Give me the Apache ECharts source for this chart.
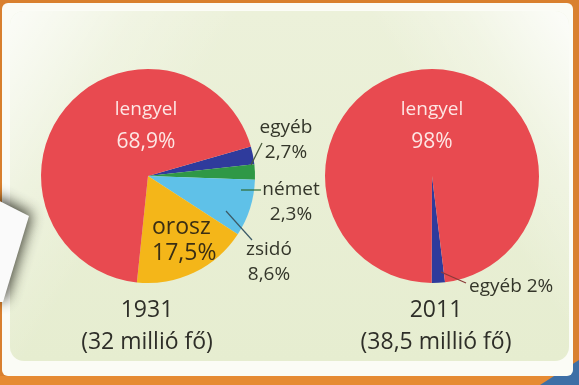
<!DOCTYPE html>
<html>
<head>
<meta charset="utf-8">
<script src="https://cdn.jsdelivr.net/npm/echarts@6/dist/echarts.min.js"></script>
<style>
  html, body { margin: 0; padding: 0; background: #ffffff; }
  #chart { width: 579px; height: 385px; }
</style>
</head>
<body>
<div id="chart"></div>
<script>
// Nemzetiségi megoszlás, Lengyelország
const names1931 = ['egyéb', 'német', 'zsidó', 'orosz', 'lengyel'];
const values1931 = [2.7, 2.3, 8.6, 17.5, 68.9];
const names2011 = ['egyéb', 'lengyel'];
const values2011 = [2, 98];
const years = ['1931', '2011'];
const populations = ['(32 millió fő)', '(38,5 millió fő)'];

const colorMap = {
  'lengyel': '#e84a50',
  'orosz': '#f4b619',
  'zsidó': '#5fc1e8',
  'német': '#2f9846',
  'egyéb': '#2f3b9c'
};

const FONT = '"Open Sans", "Noto Sans", sans-serif';
const DARK = '#34362a';

function pct(v) { return String(v).replace('.', ',') + '%'; }

// label placement for each slice (pixel anchor + alignment)
const place1931 = {
  'lengyel': { x: 146, y: 126, align: 'center' },
  'orosz':   { x: 152, y: 240, align: 'left' },
  'zsidó':   { x: 269, y: 262, align: 'center' },
  'német':   { x: 291, y: 202, align: 'center' },
  'egyéb':   { x: 286, y: 140, align: 'center' }
};
const place2011 = {
  'lengyel': { x: 432, y: 126, align: 'center' },
  'egyéb':   { x: 469, y: 287, align: 'left' }
};

function labelFor(name, isSecond) {
  if (name === 'lengyel') {
    return {
      color: '#fde6e4', fontFamily: FONT, overflow: 'none',
      formatter: p => '{n|' + p.name + '}\n{v|' + pct(p.value) + '}',
      rich: {
        n: { fontSize: 19, lineHeight: 32, color: '#fde6e4', fontFamily: FONT },
        v: { fontSize: 21, lineHeight: 32, color: '#fde6e4', fontFamily: FONT }
      }
    };
  }
  if (name === 'orosz') {
    return {
      color: '#3a2e14', fontFamily: FONT, fontSize: 23, lineHeight: 26, overflow: 'none',
      formatter: p => p.name + '\n' + pct(p.value)
    };
  }
  if (isSecond) {
    return {
      color: DARK, fontFamily: FONT, fontSize: 19, overflow: 'none',
      formatter: p => p.name + ' ' + pct(p.value)
    };
  }
  return {
    color: DARK, fontFamily: FONT, fontSize: 19, lineHeight: 25, overflow: 'none',
    formatter: p => p.name + '\n' + pct(p.value)
  };
}

function buildData(names, values, isSecond) {
  return names.map((n, i) => ({
    name: n,
    value: values[i],
    itemStyle: { color: colorMap[n] },
    label: labelFor(n, isSecond)
  }));
}

function layoutFrom(places, names) {
  return function (params) {
    const p = places[names[params.dataIndex]];
    return { x: p.x, y: p.y, align: p.align, verticalAlign: 'middle' };
  };
}

const chart = echarts.init(document.getElementById('chart'), null, { renderer: 'canvas' });

const panel = { x: 10, y: 11, width: 559, height: 350, r: 14 };

const background = [
  // orange frame behind the card
  { type: 'rect', z: -20, shape: { x: 0, y: 0, width: 579, height: 385 }, style: { fill: '#d9802f' } },
  { type: 'rect', z: -19, shape: { x: 0, y: 376, width: 579, height: 9 }, style: { fill: '#e68b33' } },
  { type: 'polygon', z: -19, shape: { points: [[540, 385], [579, 360], [579, 385]] }, style: { fill: '#3d6fa6' } },
  // white card
  { type: 'rect', z: -18, shape: { x: 2, y: 3, width: 571, height: 373, r: 6 }, style: { fill: '#fbfcf6' } },
  // pale green panel
  {
    type: 'rect', z: -17, shape: panel,
    style: {
      fill: new echarts.graphic.LinearGradient(0, 0, 0, 1, [
        { offset: 0, color: '#ecf1da' },
        { offset: 1, color: '#e6edd0' }
      ])
    }
  },
  // soft sheen fading in from the top corners
  {
    type: 'rect', z: -16, shape: panel,
    style: {
      fill: new echarts.graphic.LinearGradient(0, 0, 1, 1, [
        { offset: 0, color: 'rgba(255,255,255,0.8)' },
        { offset: 0.16, color: 'rgba(255,255,255,0.25)' },
        { offset: 0.3, color: 'rgba(255,255,255,0)' }
      ])
    }
  },
  {
    type: 'rect', z: -16, shape: panel,
    style: {
      fill: new echarts.graphic.LinearGradient(1, 0, 0, 1, [
        { offset: 0, color: 'rgba(255,255,255,0.85)' },
        { offset: 0.14, color: 'rgba(255,255,255,0.3)' },
        { offset: 0.26, color: 'rgba(255,255,255,0)' }
      ])
    }
  },
  // tilted sheet on the left with its shadow
  {
    type: 'polygon', z: -15,
    shape: { points: [[-10, 196], [29, 216], [3, 302], [-10, 302]] },
    style: {
      fill: '#fafafa',
      shadowBlur: 14, shadowColor: 'rgba(30,30,20,0.85)', shadowOffsetX: 3, shadowOffsetY: -2
    }
  }
];

// leader lines from the small slices to their captions
const leaders = [
  [[251, 165], [262, 143], '#4b5a3c'],
  [[241, 190], [261, 190], '#2e6b35'],
  [[226, 211], [252, 240], '#3c5a66'],
  [[441, 272], [466, 283], '#8a3a3a']
].map(l => ({
  type: 'line', z: 10,
  shape: { x1: l[0][0], y1: l[0][1], x2: l[1][0], y2: l[1][1] },
  style: { stroke: l[2], lineWidth: 1.2 }
}));

// year + population captions under each pie
const captionX = [147, 436];
const captions = [];
years.forEach((y, i) => {
  captions.push({
    type: 'text', z: 10, x: captionX[i], y: 310,
    style: { text: y, font: '23px ' + FONT, fill: '#2e2e28', textAlign: 'center', textVerticalAlign: 'middle' }
  });
  captions.push({
    type: 'text', z: 10, x: captionX[i], y: 342,
    style: { text: populations[i], font: '23px ' + FONT, fill: '#2e2e28', textAlign: 'center', textVerticalAlign: 'middle' }
  });
});

chart.setOption({
  animation: false,
  graphic: background.concat(leaders, captions),
  series: [
    {
      type: 'pie',
      center: [148, 176],
      radius: [0, 107],
      startAngle: 16,
      clockwise: true,
      silent: true,
      label: { show: true, position: 'outside', overflow: 'none' },
      labelLine: { show: false },
      labelLayout: layoutFrom(place1931, names1931),
      itemStyle: { borderWidth: 0 },
      data: buildData(names1931, values1931, false)
    },
    {
      type: 'pie',
      center: [432, 176],
      radius: [0, 107],
      startAngle: -83,
      clockwise: true,
      silent: true,
      label: { show: true, position: 'outside', overflow: 'none' },
      labelLine: { show: false },
      labelLayout: layoutFrom(place2011, names2011),
      itemStyle: { borderWidth: 0 },
      data: buildData(names2011, values2011, true)
    }
  ]
});
</script>
</body>
</html>
